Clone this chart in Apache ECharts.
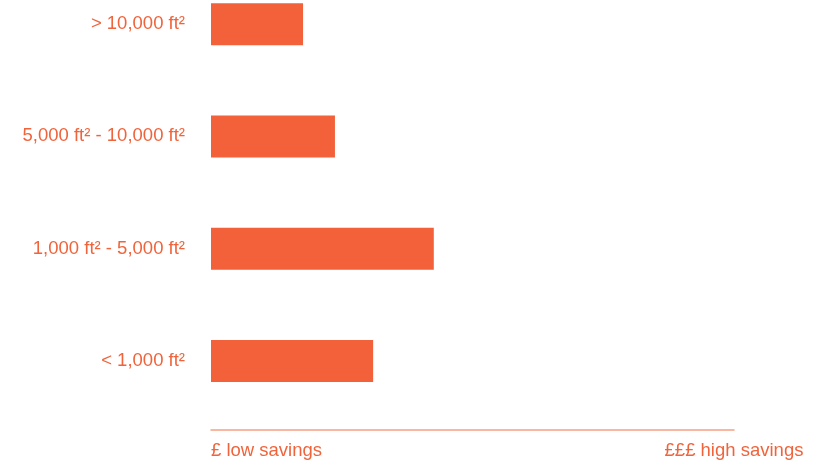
<!DOCTYPE html>
<html>
<head>
<meta charset="utf-8">
<script src="https://cdn.jsdelivr.net/npm/echarts@6/dist/echarts.min.js"></script>
<style>
  html, body { margin: 0; padding: 0; background: #ffffff; overflow: hidden; }
  #wrap { position: relative; width: 820px; height: 461px; overflow: hidden; }
  /* the plot area starts above the visible page so the top bar sits near the edge */
  #chart { position: absolute; left: 0; top: -32px; width: 820px; height: 493px; }
</style>
</head>
<body>
<div id="wrap"><div id="chart"></div></div>
<script>
// Building size bands, listed bottom to top as the category axis draws them
const categories = ['< 1,000 ft²', '1,000 ft² - 5,000 ft²', '5,000 ft² - 10,000 ft²', '> 10,000 ft²'];
// Relative savings on a 0–100 scale
const savings = [31.0, 42.6, 23.7, 17.6];
// End labels of the savings axis
const axisEnds = ['£ low savings', '£££ high savings'];

const accent = '#F26139';
const textColor = '#F0643C';
const lineColor = '#F7A083';
const font = 'Liberation Sans, Arial, sans-serif';

const chart = echarts.init(document.getElementById('chart'), null, { renderer: 'canvas' });
chart.setOption({
  animation: false,
  backgroundColor: '#ffffff',
  grid: { left: 211, right: 86, top: 0, bottom: 44, containLabel: false },
  xAxis: {
    type: 'value',
    min: 0,
    max: 100,
    interval: 100,
    offset: 13,
    axisLine: { show: true, lineStyle: { color: lineColor, width: 1.5 } },
    axisTick: { show: false },
    splitLine: { show: false },
    axisLabel: {
      color: textColor,
      fontFamily: font,
      fontSize: 18.5,
      margin: 11,
      alignMinLabel: 'left',
      alignMaxLabel: 'center',
      formatter: v => (v === 0 ? axisEnds[0] : axisEnds[1])
    }
  },
  yAxis: {
    type: 'category',
    data: categories,
    axisLine: { show: false },
    axisTick: { show: false },
    axisLabel: {
      color: textColor,
      fontFamily: font,
      fontSize: 18.5,
      margin: 26,
      padding: [4, 0, 0, 0]
    }
  },
  series: [{
    type: 'bar',
    data: savings,
    barWidth: 42,
    itemStyle: { color: accent },
    silent: true
  }]
});
</script>
</body>
</html>
